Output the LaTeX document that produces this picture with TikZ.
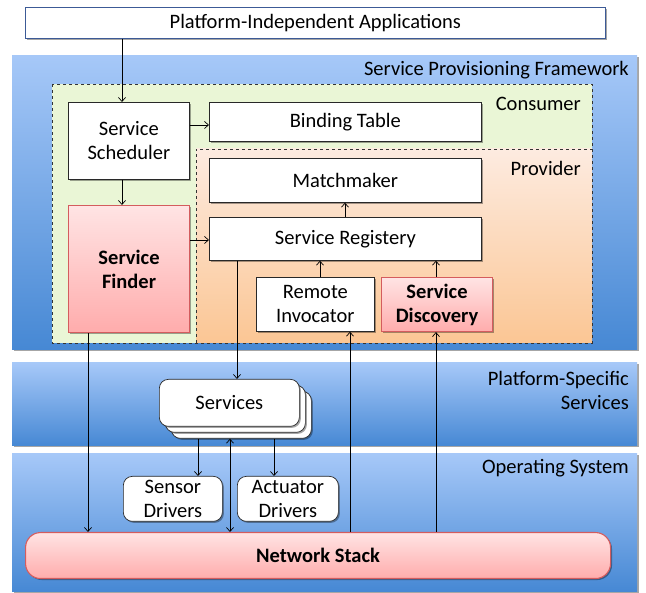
\documentclass[tikz,border=0pt]{standalone}
\usepackage{fontspec}
\setmainfont{Carlito}
\usetikzlibrary{shadows,arrows.meta}

\definecolor{bandtop}{RGB}{166,200,248}
\definecolor{bandbot}{RGB}{70,136,212}
\definecolor{consumerbg}{RGB}{234,246,214}
\definecolor{provtop}{RGB}{253,235,224}
\definecolor{provbot}{RGB}{251,198,148}
\definecolor{redtop}{RGB}{255,228,228}
\definecolor{redbot}{RGB}{255,172,172}
\definecolor{redline}{RGB}{212,92,94}
\definecolor{boxline}{RGB}{40,40,40}
\definecolor{appline}{RGB}{60,90,150}

\tikzset{
  shadowed/.style={drop shadow={shadow xshift=1.5pt,shadow yshift=-1.5pt,opacity=0.35,fill=black}},
  band/.style={shadowed,draw=none,top color=bandtop,bottom color=bandbot},
  region/.style={draw=black!80,dashed,line width=0.6pt},
  wbox/.style={shadowed,draw=boxline,fill=white,line width=0.7pt,align=center,
    inner sep=0pt,anchor=north west},
  rbox/.style={wbox,draw=redline,line width=1.1pt,top color=redtop,bottom color=redbot,
    font=\fontsize{20.5}{24}\selectfont\bfseries},
  rounded box/.style={wbox,rounded corners=9pt},
  tag/.style={anchor=east,inner sep=0pt,align=right},
  arr/.style={-{Straight Barb[length=4pt,width=7pt]},line width=0.7pt},
  dbl/.style={{Straight Barb[length=4pt,width=7pt]}-{Straight Barb[length=4pt,width=7pt]},line width=0.7pt},
}

\begin{document}
\begin{tikzpicture}[x=1pt,y=-1pt,font=\fontsize{20.5}{24}\selectfont]
\useasboundingbox (0,0) rectangle (646,593);

% column positions for vertical connectors
\coordinate (c88) at (88,0);
\coordinate (c122) at (122,0);
\coordinate (c198) at (198,0);
\coordinate (c230) at (230,0);
\coordinate (c237) at (237,0);
\coordinate (c274) at (274,0);
\coordinate (c320) at (320,0);
\coordinate (c345) at (345,0);
\coordinate (c350) at (350,0);
\coordinate (c436) at (436,0);
\coordinate (r240) at (0,240);
\coordinate (r125) at (0,125);

% layer bands
\path[band] (12,56) rectangle (637,350);
\path[band] (12,363) rectangle (637,446);
\path[band] (12,454) rectangle (637,592);

\node[tag] at (629,70) {Service Provisioning Framework};
\node[tag] at (629,390) {Platform-Specific\\Services};
\node[tag] at (629,468) {Operating System};

% consumer and provider regions
\path[fill=consumerbg] (52,84) rectangle (592,343);
\shade[top color=provtop,bottom color=provbot] (196,149) rectangle (592,343);
\draw[region] (52,84) rectangle (592,343);
\draw[region] (196,343) -- (196,149) -- (592,149);
\node[tag] at (581,104) {Consumer};
\node[tag] at (581,168) {Provider};

% top application layer
\node[wbox,fill=white,drop shadow={opacity=0},draw=appline,minimum width=580pt,minimum height=31pt]
  (apps) at (25,7) {Platform-Independent Applications};

% framework components
\node[wbox,minimum width=121pt,minimum height=77pt] (sched) at (68,102) {Service\\Scheduler};
\node[wbox,minimum width=272pt,minimum height=39pt] (bind) at (209,102) {Binding Table};
\node[wbox,minimum width=272pt,minimum height=44pt] (match) at (209,158) {Matchmaker};
\node[wbox,minimum width=272pt,minimum height=43pt] (reg) at (209,217) {Service Registery};
\node[rbox,minimum width=121pt,minimum height=127pt] (finder) at (68,205) {Service\\Finder};
\node[wbox,minimum width=118pt,minimum height=54pt] (invoc) at (256,277) {Remote\\Invocator};
\node[rbox,minimum width=111pt,minimum height=54pt] (disc) at (381,277) {Service\\Discovery};

% platform-specific services (stacked)
\node[rounded box,minimum width=140pt,minimum height=47pt] (svcback) at (171,391) {};
\node[rounded box,minimum width=140pt,minimum height=47pt] (svcmid) at (165,385) {};
\node[rounded box,minimum width=140pt,minimum height=47pt] (services) at (159,379) {Services};

% operating system
\node[rounded box,minimum width=99pt,minimum height=45pt] (sensor) at (123,476) {Sensor\\Drivers};
\node[rounded box,minimum width=101pt,minimum height=45pt] (actuator) at (237,476) {Actuator\\Drivers};
\node[rbox,rounded corners=15pt,minimum width=585pt,minimum height=46pt] (net) at (25,532) {Network Stack};

% connectors
\draw[arr] (apps.south -| c122) -- (sched.north -| c122);
\draw[arr] (sched.east |- r125) -- (bind.west |- r125);
\draw[arr] (sched.south -| c122) -- (finder.north -| c122);
\draw[arr] (finder.east |- r240) -- (reg.west |- r240);
\draw[arr] (reg.north -| c345) -- (match.south -| c345);
\draw[arr] (invoc.north -| c320) -- (reg.south -| c320);
\draw[arr] (disc.north -| c436) -- (reg.south -| c436);
\draw[arr] (finder.south -| c88) -- (net.north -| c88);
\draw[arr] (reg.south -| c237) -- (services.north -| c237);
\draw[arr] (net.north -| c350) -- (invoc.south -| c350);
\draw[arr] (net.north -| c436) -- (disc.south -| c436);
\draw[arr] (svcback.south -| c198) -- (sensor.north -| c198);
\draw[arr] (svcback.south -| c274) -- (actuator.north -| c274);
\draw[dbl] (svcback.south -| c230) -- (net.north -| c230);
\end{tikzpicture}
\end{document}
